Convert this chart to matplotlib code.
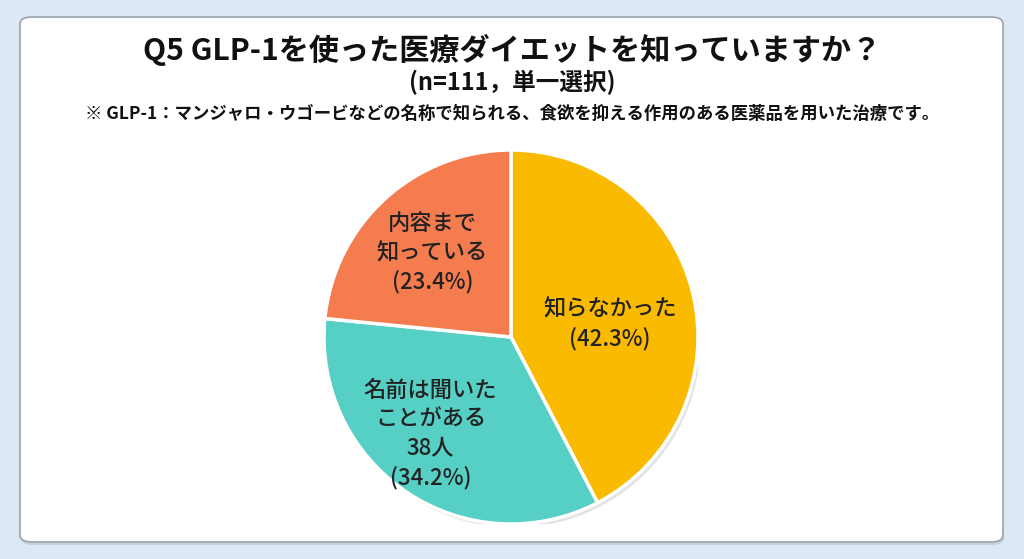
import matplotlib
matplotlib.use("Agg")
import matplotlib.pyplot as plt
from matplotlib.patches import FancyBboxPatch, Circle

plt.rcParams["font.family"] = ["Noto Sans CJK JP", "DejaVu Sans"]

# data
labels = ["知らなかった", "名前は聞いた\nことがある\n38人", "内容まで\n知っている"]
shares = [42.3, 34.2, 23.4]
colors = ["#F9BA00", "#56CFC4", "#F47C4E"]

title = "Q5 GLP-1を使った医療ダイエットを知っていますか？"
subtitle = "(n=111，単一選択)"
note = "※ GLP-1：マンジャロ・ウゴービなどの名称で知られる、食欲を抑える作用のある医薬品を用いた治療です。"

# label centres in units of pie radius
label_pos = [(0.53, 0.07), (-0.43, -0.52), (-0.42, 0.45)]

W, H = 1024, 559
fig = plt.figure(figsize=(W / 100, H / 100), dpi=100)
fig.patch.set_facecolor("#DEE8F4")

# card with soft shadow
shadow = FancyBboxPatch((21 / W, 14 / H), 983 / W, 525 / H,
                        boxstyle="round,pad=0,rounding_size=0.012",
                        transform=fig.transFigure, facecolor="#b9c3cf",
                        edgecolor="none", alpha=0.6, zorder=0)
card = FancyBboxPatch((20 / W, 17 / H), 983 / W, 525 / H,
                      boxstyle="round,pad=0,rounding_size=0.012",
                      transform=fig.transFigure, facecolor="white",
                      edgecolor="#9aa3ad", linewidth=1.2, zorder=1)
fig.patches.extend([shadow, card])

fig.text(0.5, 1 - 50 / H, title, ha="center", va="center",
         fontsize=21.7, fontweight="bold", color="#111111")
fig.text(0.5, 1 - 82 / H, subtitle, ha="center", va="center",
         fontsize=17, fontweight="bold", color="#111111")
fig.text(0.5, 1 - 114 / H, note, ha="center", va="center",
         fontsize=12.5, fontweight="bold", color="#111111")

cx, cy, r = 511, 559 - 337, 187
ax = fig.add_axes([(cx - r) / W, (cy - r) / H, 2 * r / W, 2 * r / H])
ax.set_zorder(2)

ax.add_patch(Circle((0.015, -0.02), 1.0, facecolor="#888888", alpha=0.22,
                    edgecolor="none", zorder=0))
ax.pie(shares, colors=colors, startangle=90, counterclock=False,
       radius=1.0, wedgeprops=dict(edgecolor="white", linewidth=2.5))

for (x, y), lab, s in zip(label_pos, labels, shares):
    ax.text(x, y, f"{lab}\n({s}%)", ha="center", va="center",
            fontsize=16, fontweight="medium", color="#222222",
            linespacing=1.33, zorder=5)

ax.set_xlim(-1, 1)
ax.set_ylim(-1, 1)
ax.set_aspect("equal")
ax.axis("off")

fig.savefig("out.png", dpi=100)
